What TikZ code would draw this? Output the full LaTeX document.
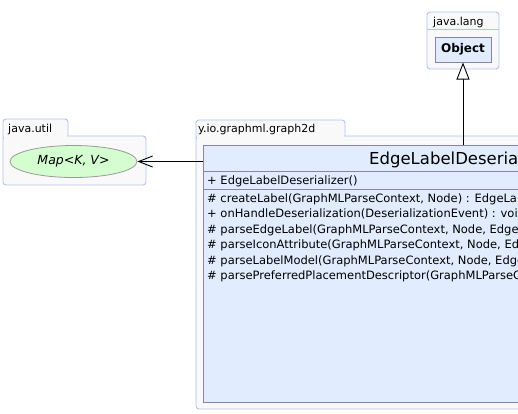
\documentclass[tikz,border=0pt]{standalone}
\usepackage{fontspec}
\setmainfont{DejaVu Sans}
\usetikzlibrary{arrows.meta,shapes.geometric}
\definecolor{pkgfill}{HTML}{F9F9F9}
\definecolor{pkgline}{HTML}{B4C3F2}
\definecolor{clsfill}{HTML}{E1EDFE}
\definecolor{clsline}{HTML}{8585AE}
\definecolor{mapfill}{HTML}{D4FDD0}
\definecolor{mapline}{HTML}{9A9A9A}
\tikzset{
  pkg/.style={draw=pkgline, fill=pkgfill, line width=0.9pt, rounded corners=3pt},
  clsbox/.style={draw=clsline, fill=clsfill, line width=1pt, inner sep=0pt},
  sepline/.style={draw=clsline, line width=1pt},
  pkglabel/.style={anchor=base west, inner sep=0pt, font=\fontsize{11}{13}\selectfont},
  member/.style={anchor=base west, inner sep=0pt, font=\fontsize{11.5}{13}\selectfont},
  conn/.style={draw=black, line width=0.9pt},
}
\begin{document}
\begin{tikzpicture}[x=1pt,y=-1pt]
\useasboundingbox (0,0) rectangle (518,413);
\clip (0,0) rectangle (518,413);
\fill[white] (0,0) rectangle (518,413);
% java.lang package
\path[pkg] (427,12) rectangle (499,69);
\draw[pkgline, line width=0.9pt] (427,29) -- (499,29);
\node[pkglabel] (tlang) at (433,25) {java.lang};
\node[clsbox, minimum width=56pt, minimum height=25pt, font=\fontsize{12}{14}\selectfont\bfseries] (obj) at (463,49.5) {Object};
% java.util package
\path[pkg] (3,119) rectangle (68,140);
\path[pkg] (3,136) rectangle (146,185);
\fill[pkgfill] (4,134) rectangle (67.4,138);
\node[pkglabel] (tutil) at (8,132) {java.util};
\node[ellipse, draw=mapline, fill=mapfill, line width=0.8pt, minimum width=127pt, minimum height=32pt, inner sep=0pt, font=\fontsize{12.5}{14}\selectfont\itshape] (map) at (73.5,161.5) {Map<K, V>};
% y.io.graphml.graph2d package
\path[pkg] (196,120) rectangle (345,140);
\path[pkg] (196,136) rectangle (600,409);
\fill[pkgfill] (197,134) rectangle (344.4,138);
\node[pkglabel] (tgraph) at (198,132) {y.io.graphml.graph2d};
% class
\node[clsbox, anchor=north west, minimum width=400pt, minimum height=257pt] (cls) at (203,145) {};
\draw[sepline] (203,171) -- (603,171);
\draw[sepline] (203,189) -- (603,189);
\node[anchor=base west, inner sep=0pt, font=\fontsize{16.5}{19}\selectfont] (title) at (369,164) {EdgeLabelDeserializer};
\node[member] (m0) at (207,184) {+ EdgeLabelDeserializer()};
\node[member] (m1) at (207,202) {\# createLabel(GraphMLParseContext, Node) : EdgeLabel};
\node[member] (m2) at (207,217.5) {+ onHandleDeserialization(DeserializationEvent) : void};
\node[member] (m3) at (207,233) {\# parseEdgeLabel(GraphMLParseContext, Node, EdgeLabel)};
\node[member] (m4) at (207,248.5) {\# parseIconAttribute(GraphMLParseContext, Node, EdgeLabel)};
\node[member] (m5) at (207,264) {\# parseLabelModel(GraphMLParseContext, Node, EdgeLabel)};
\node[member] (m6) at (207,279.5) {\# parsePreferredPlacementDescriptor(GraphMLParseContext, Node)};
% connectors
\draw[conn, -{Straight Barb[length=14pt,width=11pt,line width=0.9pt]}] (cls.north west |- map.east) -- (map.east);
\draw[conn, -{Triangle[open, length=17pt, width=13pt, fill=white, line width=0.9pt]}] (cls.north -| obj.south) -- (obj.south);
\end{tikzpicture}
\end{document}
